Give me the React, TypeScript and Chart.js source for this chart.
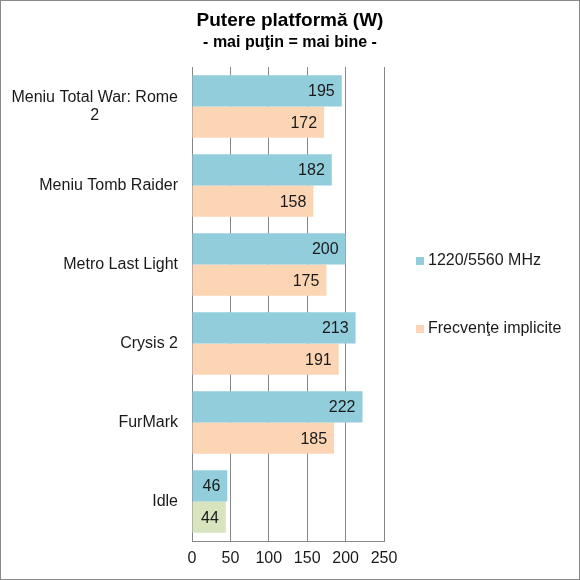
import React, { useEffect, useRef } from "react";
import { Chart, registerables } from "chart.js";
Chart.register(...registerables);

const categories: (string | string[])[] = [
  ["Meniu Total War: Rome", "2"],
  "Meniu Tomb Raider",
  "Metro Last Light",
  "Crysis 2",
  "FurMark",
  "Idle",
];
const overclockValues = [195, 182, 200, 213, 222, 46];
const defaultValues = [172, 158, 175, 191, 185, 44];
const seriesNames = ["1220/5560 MHz", "Frecvenţe implicite"];
const xTickValues = [0, 50, 100, 150, 200, 250];
const titleText = "Putere platformă (W)";
const subtitleText = "- mai puţin = mai bine -";

const BLUE = "#92CDDC";
const PEACH = "#FCD5B5";
const GREEN = "#D7E4BD";
const GRID = "#868686";
const TEXT = "#1a1a1a";
const FONT = "'Liberation Sans', Arial, sans-serif";

const decorPlugin = {
  id: "decor",
  afterDraw(chart: any) {
    const ctx = chart.ctx;
    const y = chart.scales.y;
    ctx.save();
    // border
    ctx.strokeStyle = "#8a8a8a";
    ctx.lineWidth = 1;
    ctx.strokeRect(0.5, 0.5, chart.width - 1, chart.height - 1);
    // title
    ctx.fillStyle = "#000";
    ctx.textAlign = "center";
    ctx.textBaseline = "middle";
    ctx.font = `bold 19px ${FONT}`;
    ctx.fillText(titleText, 290, 21);
    ctx.font = `bold 16px ${FONT}`;
    ctx.fillText(subtitleText, 290, 43);
    // category labels
    ctx.font = `16px ${FONT}`;
    ctx.fillStyle = TEXT;
    const rightX = y.left + y.width - 14;
    categories.forEach((c, i) => {
      const cy = y.getPixelForValue(i);
      const lines = Array.isArray(c) ? c : [c];
      const lh = 18;
      const maxW = Math.max(...lines.map((l) => ctx.measureText(l).width));
      lines.forEach((l, k) => {
        const ly = cy + (k - (lines.length - 1) / 2) * lh;
        if (lines.length > 1) {
          ctx.textAlign = "center";
          ctx.fillText(l, rightX - maxW / 2, ly);
        } else {
          ctx.textAlign = "right";
          ctx.fillText(l, rightX, ly);
        }
      });
    });
    // data labels
    ctx.textAlign = "right";
    ctx.font = `16px ${FONT}`;
    chart.data.datasets.forEach((ds: any, di: number) => {
      const meta = chart.getDatasetMeta(di);
      meta.data.forEach((bar: any, i: number) => {
        ctx.fillStyle = TEXT;
        ctx.fillText(String(ds.data[i]), bar.x - 7, bar.y + 1);
      });
    });
    // legend
    const legendY = [261, 329];
    const colors = [BLUE, PEACH];
    ctx.font = `16px ${FONT}`;
    seriesNames.forEach((n, i) => {
      ctx.fillStyle = colors[i];
      ctx.fillRect(416, legendY[i] - 4, 8, 8);
      ctx.fillStyle = TEXT;
      ctx.textAlign = "left";
      ctx.fillText(n, 428, legendY[i]);
    });
    ctx.restore();
  },
};

export default function App() {
  const ref = useRef<HTMLCanvasElement>(null);
  useEffect(() => {
    document.body.style.margin = "0";
    const chart = new Chart(ref.current!, {
      type: "bar",
      data: {
        labels: categories as any,
        datasets: [
          {
            label: seriesNames[0],
            data: overclockValues,
            backgroundColor: BLUE,
            categoryPercentage: 0.79,
            barPercentage: 1,
          },
          {
            label: seriesNames[1],
            data: defaultValues,
            backgroundColor: defaultValues.map((_, i) => (i === defaultValues.length - 1 ? GREEN : PEACH)),
            categoryPercentage: 0.79,
            barPercentage: 1,
          },
        ],
      },
      options: {
        indexAxis: "y",
        responsive: false,
        animation: false,
        layout: { padding: { top: 67, right: 196, left: 0, bottom: 0 } },
        plugins: { legend: { display: false }, tooltip: { enabled: false }, title: { display: false } },
        scales: {
          x: {
            min: 0,
            max: 250,
            afterBuildTicks: (s: any) => {
              s.ticks = xTickValues.map((v) => ({ value: v }));
            },
            afterFit: (s: any) => {
              s.height = 39;
            },
            grid: { color: GRID, drawTicks: false },
            border: { display: true, color: GRID },
            ticks: { color: TEXT, font: { size: 16, family: FONT }, padding: 8 },
          },
          y: {
            afterFit: (s: any) => {
              s.width = 192;
            },
            grid: { display: false, drawTicks: false },
            border: { display: true, color: GRID },
            ticks: { display: false },
          },
        },
      },
      plugins: [decorPlugin],
    });
    return () => chart.destroy();
  }, []);
  return (
    <div style={{ position: "absolute", left: 0, top: 0, width: 580, height: 580, background: "#fff" }}>
      <canvas ref={ref} width={580} height={580} />
    </div>
  );
}
